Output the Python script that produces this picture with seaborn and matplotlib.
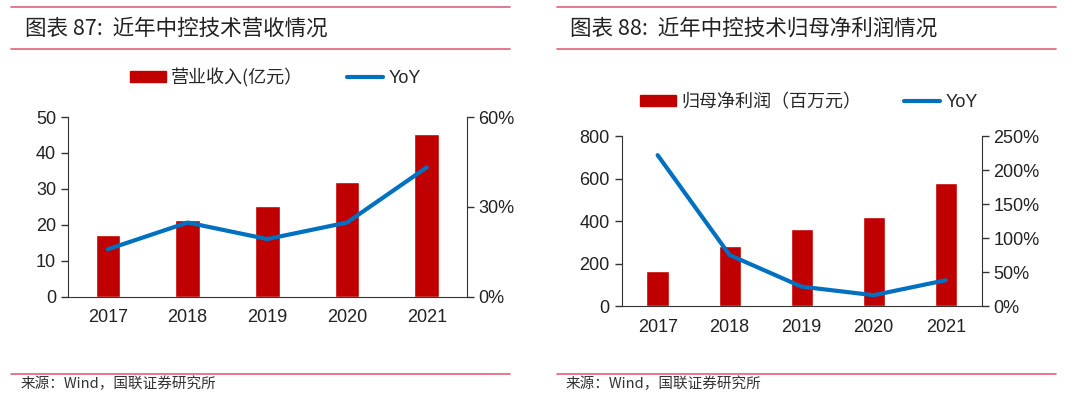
import numpy as np
import pandas as pd
import matplotlib
matplotlib.use('Agg')
import matplotlib.pyplot as plt
import seaborn as sns
from matplotlib.patches import Patch
from matplotlib.lines import Line2D
from matplotlib.ticker import FixedLocator, PercentFormatter

years = ['2017', '2018', '2019', '2020', '2021']
revenue = [17.2, 21.4, 25.4, 31.8, 45.2]          # 亿元
revenue_yoy = [15.9, 24.8, 19.3, 24.8, 43.2]      # %
profit = [163, 284, 364, 421, 580]                # 百万元
profit_yoy = [222, 75, 28.5, 16, 38]              # %

RED = '#C00000'
BLUE = '#0070C0'
PINK = '#E0607A'
NUM_FONT = ['Liberation Sans', 'DejaVu Sans']

sns.set_style('white')
plt.rcParams['font.family'] = ['Noto Sans CJK SC', 'DejaVu Sans']
plt.rcParams['axes.unicode_minus'] = False

fig = plt.figure(figsize=(10.8, 3.98), dpi=100)


def panel(rect, bars, yoy, bar_label, ylim, yticks, y2lim, y2ticks, legend_x, legend_y):
    ax = fig.add_axes(rect)
    df = pd.DataFrame({'year': years, 'val': bars})
    sns.barplot(data=df, x='year', y='val', color=RED, width=0.31, ax=ax, saturation=1)
    ax.set_xlim(-0.5, len(years) - 0.5)
    ax.set_ylim(*ylim)
    ax.set_yticks(yticks)
    ax.set_xlabel('')
    ax.set_ylabel('')
    ax.tick_params(axis='x', which='major', length=0, labelsize=13, pad=9)
    ax.xaxis.set_minor_locator(FixedLocator(np.arange(len(years) + 1) - 0.5))
    ax.tick_params(axis='x', which='minor', length=5, direction='out', width=1, color='#333333')
    ax.tick_params(axis='y', length=5, direction='out', width=1, labelsize=13, color='#333333')
    for s in ['left', 'bottom']:
        ax.spines[s].set_color('#333333')
    ax.spines['top'].set_visible(False)
    ax.spines['right'].set_visible(False)

    ax2 = ax.twinx()
    ldf = pd.DataFrame({'x': np.arange(len(years)), 'yoy': yoy})
    sns.lineplot(data=ldf, x='x', y='yoy', color=BLUE, linewidth=3.0, ax=ax2,
                 solid_capstyle='round')
    ax2.set_ylim(*y2lim)
    ax2.set_yticks(y2ticks)
    ax2.yaxis.set_major_formatter(PercentFormatter(decimals=0))
    ax2.set_ylabel('')
    ax2.tick_params(axis='y', length=5, direction='out', width=1, labelsize=13, color='#333333')
    ax2.spines['right'].set_color('#333333')
    ax2.spines['top'].set_visible(False)
    ax2.spines['left'].set_visible(False)
    ax2.spines['bottom'].set_visible(False)
    ax.set_xlim(-0.5, len(years) - 0.5)

    for lab in ax.get_xticklabels() + ax.get_yticklabels() + ax2.get_yticklabels():
        lab.set_fontfamily(NUM_FONT)
        lab.set_color('#222222')

    handles = [Patch(facecolor=RED, edgecolor=RED), Line2D([0], [0], color=BLUE, lw=3.0)]
    leg = ax.legend(handles, [bar_label, 'YoY'], loc='center', bbox_to_anchor=(legend_x, legend_y),
                    ncol=2, frameon=False, fontsize=13, handlelength=2.0, handleheight=0.6,
                    columnspacing=2.4, handletextpad=0.3)
    leg.get_texts()[1].set_fontfamily(NUM_FONT)
    return ax


panel([0.063, 0.254, 0.369, 0.452], revenue, revenue_yoy, '营业收入(亿元）',
      (0, 50), [0, 10, 20, 30, 40, 50], (0, 60), [0, 30, 60], 0.52, 1.22)
panel([0.5756, 0.231, 0.3334, 0.427], profit, profit_yoy, '归母净利润（百万元）',
      (0, 800), [0, 200, 400, 600, 800], (0, 250), [0, 50, 100, 150, 200, 250], 0.52, 1.2)

# titles, rules and sources
for x0, x1, tx, title in [(0.0105, 0.472, 0.023, '图表 87:  近年中控技术营收情况'),
                          (0.516, 0.978, 0.528, '图表 88:  近年中控技术归母净利润情况')]:
    for yy in (0.982, 0.876, 0.060):
        fig.add_artist(Line2D([x0, x1], [yy, yy], color=PINK, lw=1.2, transform=fig.transFigure))
    fig.text(tx, 0.928, title, fontsize=15.5, style='italic', va='center', color='#222222')
    fig.text(tx - 0.004, 0.035, '来源：Wind，国联证券研究所', fontsize=10.5, va='center', color='#333333')

fig.savefig('out.png', dpi=100)
